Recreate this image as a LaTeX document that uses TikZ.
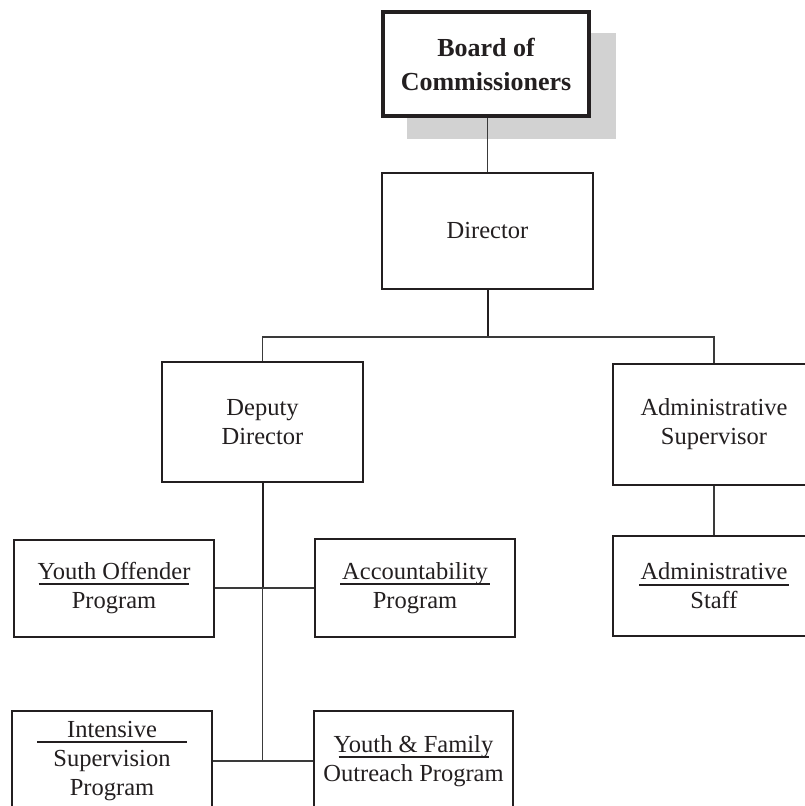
\documentclass[tikz,border=0pt]{standalone}
\usepackage{fontspec}
\setmainfont{Liberation Serif}
\definecolor{ink}{HTML}{231F20}
\definecolor{shadowgray}{HTML}{D2D2D2}
\definecolor{thinln}{HTML}{3A3A3A}
\newcommand{\ulbar}[1]{\setbox0=\hbox{#1}\hbox to \wd0{\hss\makebox[0pt]{\rule[-6pt]{150pt}{2pt}}\hss}\hskip-\wd0\box0}
\begin{document}
\begin{tikzpicture}[x=1pt,y=-1pt,
  every node/.style={font=\fontsize{24.5}{29}\selectfont, text=ink, align=center, inner sep=0pt},
  orgbox/.style={draw=ink, line width=2pt, fill=white, rectangle},
  thinline/.style={draw=thinln, line width=1.1pt},
  thickline/.style={draw=ink, line width=2pt}]
\useasboundingbox (0,0) rectangle (805,806);
\clip (0,0) rectangle (805,806);
% shadow of top box
\fill[shadowgray] (407,33) rectangle (616,139);
\node[orgbox, line width=3.5pt, minimum width=206pt, minimum height=104pt,
      font=\bfseries\fontsize{26}{34}\selectfont] (board) at (486,64) {Board of\\Commissioners};
\node[orgbox, minimum width=211pt, minimum height=116pt] (director) at (487.5,231) {Director};
\node[orgbox, minimum width=201pt, minimum height=120pt] (deputy) at (262.5,422) {Deputy\\Director};
\node[orgbox, minimum width=202pt, minimum height=121pt] (admsup) at (714,424.5) {Administrative\\Supervisor};
\node[orgbox, minimum width=200pt, minimum height=97pt] (yop) at (114,588) {\ulbar{Youth Offender}\\Program};
\node[orgbox, minimum width=200pt, minimum height=98pt] (acc) at (415,588) {\ulbar{Accountability}\\Program};
\node[orgbox, minimum width=202pt, minimum height=100pt] (admstaff) at (714,586) {\ulbar{Administrative}\\Staff};
\node[orgbox, minimum width=200pt, minimum height=100pt] (isp) at (112,761) {\ulbar{Intensive}\\Supervision\\Program};
\node[orgbox, minimum width=199pt, minimum height=100pt] (yfo) at (413.5,761) {\ulbar{Youth \& Family}\\Outreach Program};
% connectors
\coordinate (hub) at (487.5,337);
\coordinate (j1) at (deputy.south |- yop.east);
\coordinate (j2) at (deputy.south |- isp.east);
\draw[thinline] (director.north |- board.south) -- (director.north);
\draw[thickline] (director.south) -- (hub);
\draw[thinline] (deputy.north) |- (hub) -| (admsup.north);
\draw[thickline] (deputy.south) -- (j1);
\draw[thinline] (j1) -- (j2);
\draw[thinline] (yop.east) -- (acc.west);
\draw[thinline] (isp.east) -- (yfo.west);
\draw[thinline] (admsup.south) -- (admstaff.north);
\end{tikzpicture}
\end{document}
